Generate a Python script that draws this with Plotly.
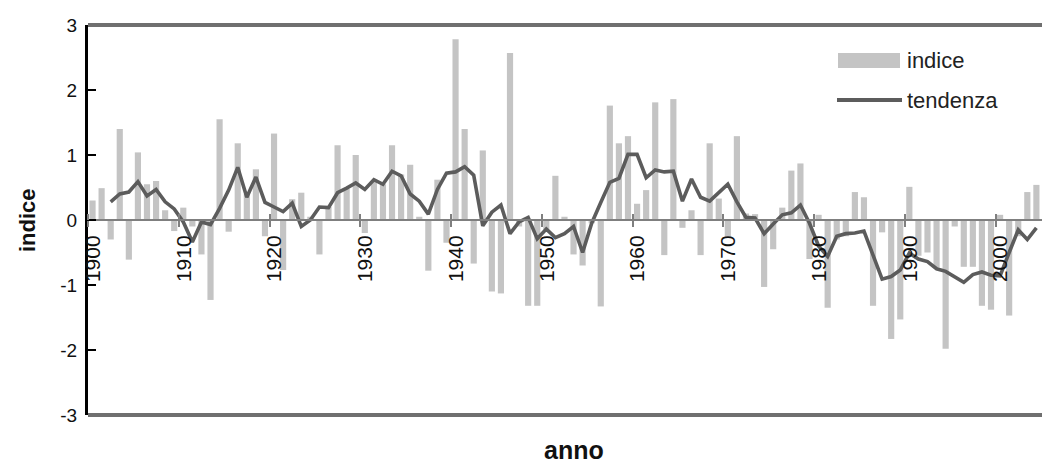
import plotly.graph_objects as go

# ---------------- data ----------------
years = list(range(1900, 2006))
indice = [
    0.30, 0.49, -0.30, 1.40, -0.61, 1.04, 0.55, 0.60, 0.15, -0.17,   # 1900-1909
    0.19, -0.10, -0.53, -1.23, 1.55, -0.18, 1.18, 0.40, 0.78, -0.25,  # 1910-1919
    1.33, -0.77, 0.32, 0.42, 0.05, -0.53, 0.20, 1.15, 0.48, 1.00,     # 1920-1929
    -0.20, 0.60, 0.55, 1.15, 0.70, 0.85, 0.05, -0.78, 0.62, -0.35,    # 1930-1939
    2.78, 1.40, -0.67, 1.07, -1.10, -1.13, 2.57, -0.10, -1.32, -1.32, # 1940-1949
    -0.15, 0.68, 0.05, -0.53, -0.70, -0.05, -1.33, 1.76, 1.18, 1.29,  # 1950-1959
    0.25, 0.46, 1.81, -0.54, 1.86, -0.12, 0.15, -0.54, 1.18, 0.33,    # 1960-1969
    -0.25, 1.29, 0.10, 0.09, -1.03, -0.45, 0.19, 0.76, 0.87, -0.60,   # 1970-1979
    0.08, -1.35, -0.30, -0.25, 0.43, 0.35, -1.32, -0.19, -1.83, -1.53,# 1980-1989
    0.51, -0.55, -0.50, -0.73, -1.98, -0.10, -0.72, -0.72, -1.32, -1.38, # 1990-1999
    0.08, -1.47, -0.25, 0.43, 0.54, -0.65,                            # 2000-2005
]

trend_years = list(range(1902, 2005))
tendenza = [
    0.28, 0.40, 0.43, 0.59, 0.37, 0.47, 0.28, 0.17,                    # 1902-1909
    -0.03, -0.34, -0.03, -0.07, 0.18, 0.46, 0.81, 0.35, 0.66, 0.27,    # 1910-1919
    0.20, 0.13, 0.26, -0.10, 0.00, 0.20, 0.19, 0.42, 0.49, 0.57,       # 1920-1929
    0.47, 0.62, 0.55, 0.75, 0.68, 0.40, 0.29, 0.09, 0.47, 0.72,        # 1930-1939
    0.74, 0.82, 0.69, -0.09, 0.12, 0.23, -0.21, -0.03, 0.04, -0.29,    # 1940-1949
    -0.14, -0.27, -0.21, -0.10, -0.50, -0.05, 0.27, 0.58, 0.64, 1.01,  # 1950-1959
    1.01, 0.65, 0.77, 0.74, 0.75, 0.29, 0.63, 0.35, 0.29, 0.42,        # 1960-1969
    0.55, 0.28, 0.04, 0.03, -0.21, -0.06, 0.08, 0.11, 0.23, -0.05,     # 1970-1979
    -0.40, -0.56, -0.25, -0.21, -0.20, -0.17, -0.54, -0.91, -0.87, -0.77, # 1980-1989
    -0.51, -0.60, -0.64, -0.75, -0.79, -0.87, -0.96, -0.84, -0.80, -0.85, # 1990-1999
    -0.86, -0.50, -0.15, -0.30, -0.12,                                  # 2000-2004
]

x_tick_labels = ["1900", "1910", "1920", "1930", "1940", "1950",
                 "1960", "1970", "1980", "1990", "2000"]
y_tick_values = [-3, -2, -1, 0, 1, 2, 3]
y_tick_labels = ["-3", "-2", "-1", "0", "1", "2", "3"]

# ---------------- style ----------------
FONT = "Liberation Sans, Arial, sans-serif"
BAR_COLOR = "#c4c4c4"
LINE_COLOR = "#5c5c5c"

# the page body adds an 8 px offset; the figure is sized so that the
# plot area lands at screen x 88..1050, y 25..415
OFF = 8
W, H = 1050 - OFF, 466 - OFF
ML, MR, MT = 88 - OFF, 0, 25 - OFF
MB = H - (415 - OFF)
PW, PH = W - ML - MR, H - MT - MB

def px_x(sx):
    return (sx - OFF - ML) / PW

def px_y(sy):
    return (H - MB - (sy - OFF)) / PH

tick_pos = [int(t) - 0.5 for t in x_tick_labels]

fig = go.Figure()
fig.add_trace(go.Bar(
    x=years, y=indice, name="indice",
    marker=dict(color=BAR_COLOR, line=dict(width=0)),
    width=0.68, showlegend=False,
))
fig.add_trace(go.Scatter(
    x=trend_years, y=tendenza, name="tendenza", mode="lines",
    line=dict(color=LINE_COLOR, width=3.6), showlegend=False,
))
# helper trace for the upper half of the crossing tick marks
fig.add_trace(go.Scatter(x=[], y=[], xaxis="x2", showlegend=False))

fig.update_layout(
    width=W, height=H,
    margin=dict(l=ML, r=MR, t=MT, b=MB, pad=0),
    paper_bgcolor="white", plot_bgcolor="white",
    font=dict(family=FONT, color="#111111"),
    showlegend=False,
    xaxis=dict(
        range=[1899.5, 2005.5],
        anchor="free", position=0.5,
        showgrid=False, zeroline=False,
        showline=True, linecolor="#7f7f7f", linewidth=2,
        tickmode="array", tickvals=tick_pos, ticktext=x_tick_labels,
        ticks="outside", ticklen=6, tickwidth=1.5, tickcolor="#7f7f7f",
        tickangle=-90, ticklabelshift=5,
        tickfont=dict(family=FONT, size=21, color="#111111"),
    ),
    xaxis2=dict(
        overlaying="x", matches="x", side="top",
        anchor="free", position=0.5,
        showgrid=False, zeroline=False, showline=False,
        tickmode="array", tickvals=tick_pos,
        ticks="outside", ticklen=6, tickwidth=1.5, tickcolor="#7f7f7f",
        showticklabels=False,
    ),
    yaxis=dict(
        range=[-3, 3],
        showgrid=False, zeroline=False,
        showline=True, linecolor="#000000", linewidth=3,
        tickmode="array", tickvals=y_tick_values, ticktext=y_tick_labels,
        ticks="inside", ticklen=8, tickwidth=2, tickcolor="#000000",
        ticklabelstandoff=4,
        tickfont=dict(family=FONT, size=19, color="#111111"),
    ),
    bargap=0.3,
)

# plot frame (top and bottom border)
for yy in (0, 1):
    fig.add_shape(type="line", xref="paper", yref="paper",
                  x0=0, x1=1, y0=yy, y1=yy,
                  line=dict(color="#6f6f6f", width=4), layer="above")

# axis titles
fig.add_annotation(text="indice", xref="paper", yref="paper",
                   x=px_x(27), y=px_y(220), textangle=-90,
                   showarrow=False, xanchor="center", yanchor="middle",
                   font=dict(family=FONT, size=22, color="#111111", weight="bold"))
fig.add_annotation(text="anno", xref="paper", yref="paper",
                   x=px_x(574), y=px_y(450),
                   showarrow=False, xanchor="center", yanchor="middle",
                   borderpad=0,
                   font=dict(family=FONT, size=25, color="#111111", weight="bold"))

# legend (drawn manually to match the wide swatches)
fig.add_shape(type="rect", xref="paper", yref="paper",
              x0=px_x(838), x1=px_x(900), y0=px_y(68), y1=px_y(53),
              fillcolor=BAR_COLOR, line=dict(width=0))
fig.add_shape(type="line", xref="paper", yref="paper",
              x0=px_x(837), x1=px_x(902), y0=px_y(100), y1=px_y(100),
              line=dict(color=LINE_COLOR, width=4))
fig.add_annotation(text="indice", xref="paper", yref="paper",
                   x=px_x(905), y=px_y(60), showarrow=False,
                   xanchor="left", yanchor="middle",
                   font=dict(family=FONT, size=22, color="#222222"))
fig.add_annotation(text="tendenza", xref="paper", yref="paper",
                   x=px_x(905), y=px_y(100), showarrow=False,
                   xanchor="left", yanchor="middle",
                   font=dict(family=FONT, size=22, color="#222222"))

fig.write_html("out.html")
